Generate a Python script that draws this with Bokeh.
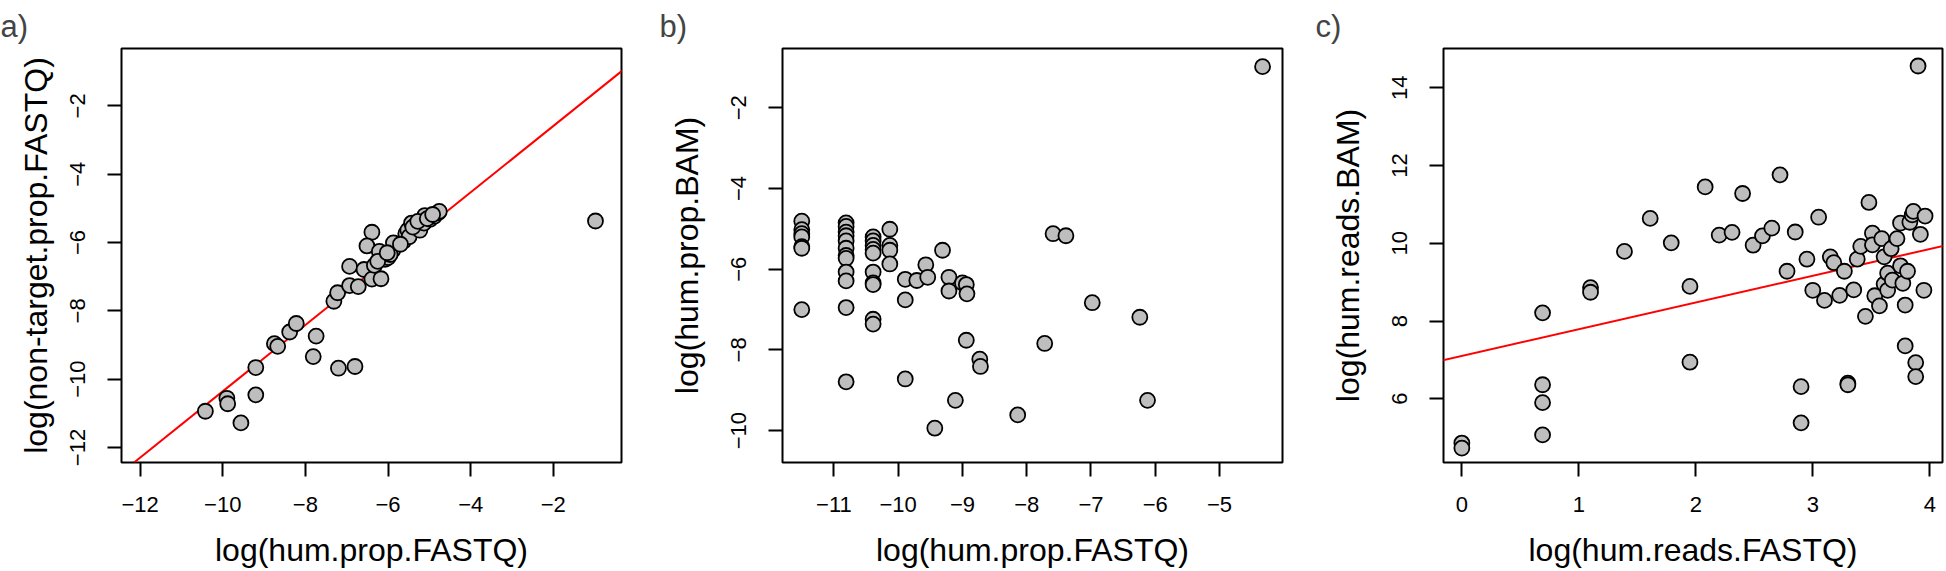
from bokeh.plotting import figure
from bokeh.layouts import row
from bokeh.models import Range1d, FixedTicker, Slope
from bokeh.embed import file_html
from bokeh.resources import INLINE

# ---------------- data ----------------
# panel a: log(hum.prop.FASTQ) vs log(non-target.prop.FASTQ)
a_x = [-0.98, -10.42, -9.90, -9.88, -9.56, -9.20, -9.20, -8.75, -8.67, -8.38,
       -8.22, -7.74, -7.81, -7.20, -6.80, -7.31, -7.22, -6.93, -6.93, -6.72,
       -6.58, -6.39, -6.51, -6.39, -6.33, -6.17, -6.21, -6.07, -6.00, -5.89,
       -5.87, -5.62, -5.57, -5.52, -5.49, -5.43, -5.33, -5.23, -5.13, -5.11,
       -4.98, -4.88, -4.79, -4.76, -6.25, -5.95, -5.70, -5.40, -5.28, -5.05,
       -4.92, -6.02]
a_y = [-5.37, -10.94, -10.56, -10.72, -11.28, -9.66, -10.46, -8.96, -9.04, -8.62,
       -8.37, -8.74, -9.34, -9.68, -9.63, -7.72, -7.47, -6.70, -7.26, -7.29,
       -6.79, -5.70, -6.10, -7.07, -6.67, -7.06, -6.26, -6.49, -6.44, -6.23,
       -6.01, -5.96, -5.74, -5.64, -5.83, -5.43, -5.48, -5.64, -5.43, -5.21,
       -5.32, -5.23, -5.13, -5.09, -6.55, -6.35, -6.05, -5.55, -5.38, -5.30,
       -5.18, -6.30]
a_fit_slope = 0.971
a_fit_intercept = -0.646

# panel b: log(hum.prop.FASTQ) vs log(hum.prop.BAM)
b_x = [-4.33,
       -11.50, -11.50, -11.50, -11.50, -11.50, -11.50, -11.50,
       -10.81, -10.81, -10.81, -10.81, -10.81, -10.81, -10.81, -10.81, -10.81,
       -10.81, -10.81, -10.81,
       -10.39, -10.39, -10.39, -10.39, -10.39, -10.39, -10.39, -10.39, -10.39, -10.39,
       -10.13, -10.13, -10.13, -10.13,
       -9.89, -9.89, -9.89, -9.71, -9.57, -9.54, -9.31, -9.21, -9.21, -9.00,
       -8.94, -8.93, -8.94, -8.73, -8.72, -9.43, -9.11, -8.14, -7.72, -7.59,
       -7.39, -6.98, -6.24, -6.12]
b_y = [-0.98,
       -4.81, -5.02, -5.12, -5.20, -5.44, -5.48, -7.00,
       -4.85, -4.94, -5.08, -5.17, -5.30, -5.48, -5.66, -5.73, -6.07,
       -6.29, -6.95, -8.79,
       -5.20, -5.30, -5.41, -5.51, -5.60, -6.07, -6.34, -6.38, -7.24, -7.36,
       -5.01, -5.41, -5.53, -5.87,
       -6.25, -6.76, -8.72, -6.28, -5.89, -6.20, -5.53, -6.20, -6.54, -6.34,
       -6.38, -6.61, -7.76, -8.23, -8.41, -9.94, -9.25, -9.61, -7.84, -5.12,
       -5.17, -6.83, -7.19, -9.25]

# panel c: log(hum.reads.FASTQ) vs log(hum.reads.BAM)
c_x = [3.90, 0.00, 0.00, 0.69, 0.69, 0.69, 0.69, 1.10, 1.10, 1.39,
       1.61, 1.79, 1.95, 1.95, 2.08, 2.20, 2.31, 2.40, 2.49, 2.57,
       2.65, 2.72, 2.78, 2.85, 2.90, 2.90, 2.95, 3.00, 3.05, 3.10,
       3.15, 3.18, 3.23, 3.27, 3.30, 3.30, 3.35, 3.38, 3.41, 3.45,
       3.48, 3.51, 3.51, 3.53, 3.57, 3.59, 3.61, 3.61, 3.64, 3.64,
       3.67, 3.68, 3.72, 3.75, 3.75, 3.77, 3.79, 3.79, 3.81, 3.83,
       3.85, 3.86, 3.88, 3.88, 3.92, 3.95, 3.96]
c_y = [14.56, 4.86, 4.73, 8.21, 6.36, 5.90, 5.07, 8.86, 8.74, 9.79,
       10.64, 10.01, 8.89, 6.94, 11.45, 10.21, 10.28, 11.28, 9.95, 10.19,
       10.39, 11.76, 9.28, 10.29, 6.31, 5.38, 9.59, 8.79, 10.67, 8.53,
       9.65, 9.50, 8.66, 9.28, 6.40, 6.36, 8.80, 9.59, 9.92, 8.12,
       11.05, 10.26, 9.96, 8.65, 8.39, 10.12, 9.65, 8.95, 9.23, 8.79,
       9.86, 9.05, 10.12, 9.42, 10.52, 8.97, 8.41, 7.36, 9.28, 10.54,
       10.73, 10.82, 6.93, 6.57, 10.23, 8.79, 10.70]
c_fit_slope = 0.688
c_fit_intercept = 7.10

# tick values
a_ticks = [-12, -10, -8, -6, -4, -2]
b_xticks = [-11, -10, -9, -8, -7, -6, -5]
b_yticks = [-10, -8, -6, -4, -2]
c_xticks = [0, 1, 2, 3, 4]
c_yticks = [6, 8, 10, 12, 14]

FONT = "Liberation Sans"


def minus(v):
    return str(v).replace("-", "\u2212")


def make_panel(tag, xlab, ylab, xr, yr, xticks, yticks, xs, ys,
               frame_w, bl, br, title_off, ylab_standoff, slope=None):
    p = figure(frame_width=frame_w, frame_height=414,
               min_border_left=bl, min_border_right=br,
               min_border_top=48, min_border_bottom=108,
               x_range=Range1d(*xr), y_range=Range1d(*yr),
               output_backend="svg", toolbar_location=None,
               background_fill_color="white", border_fill_color="white")
    p.grid.visible = False
    p.outline_line_color = "black"
    p.outline_line_width = 2
    p.outline_line_alpha = 1

    p.title.text = tag
    p.title.text_font = FONT
    p.title.text_font_size = "31px"
    p.title.text_font_style = "normal"
    p.title.align = "left"
    p.title.offset = title_off
    p.title.standoff = 9

    for ax, ticks in ((p.xaxis[0], xticks), (p.yaxis[0], yticks)):
        ax.ticker = FixedTicker(ticks=ticks)
        ax.major_label_overrides = {t: minus(t) for t in ticks}
        ax.minor_tick_line_color = None
        ax.axis_line_color = None
        ax.major_tick_in = 0
        ax.major_tick_out = 14
        ax.major_tick_line_width = 2
        ax.major_tick_line_color = "black"
        ax.major_label_text_font = FONT
        ax.major_label_text_font_size = "22px"
        ax.major_label_text_color = "black"
        ax.axis_label_text_font = FONT
        ax.axis_label_text_font_size = "32px"
        ax.axis_label_text_font_style = "normal"
        ax.axis_label_text_color = "black"
    p.xaxis.axis_label = xlab
    p.yaxis.axis_label = ylab
    p.xaxis.major_label_standoff = 20
    p.xaxis.axis_label_standoff = 17
    p.yaxis.major_label_standoff = 22
    p.yaxis.axis_label_standoff = ylab_standoff
    p.yaxis.major_label_orientation = "vertical"

    if slope is not None:
        s = Slope(gradient=slope[0], y_intercept=slope[1],
                  line_color="red", line_width=2, level="underlay")
        p.add_layout(s)

    p.scatter(xs, ys, marker="circle", size=15, fill_color="#BEBEBE",
              line_color="black", line_width=1.8)
    return p


pa = make_panel("a)", "log(hum.prop.FASTQ)", "log(non-target.prop.FASTQ)",
                (-12.45, -0.35), (-12.44, -0.32), a_ticks, a_ticks, a_x, a_y,
                500, 121, 18, -121, 14, (a_fit_slope, a_fit_intercept))
pb = make_panel("b)", "log(hum.prop.FASTQ)", "log(hum.prop.BAM)",
                (-11.80, -4.02), (-10.79, -0.53), b_xticks, b_yticks, b_x, b_y,
                500, 143, 10, -123, 24)
pc = make_panel("c)", "log(hum.reads.FASTQ)", "log(hum.reads.BAM)",
                (-0.157, 4.109), (4.36, 15.01), c_xticks, c_yticks, c_x, c_y,
                499, 151, 3, -128, 24, (c_fit_slope, c_fit_intercept))

layout = row(pa, pb, pc, spacing=0)
open("out.html", "w").write(file_html(layout, INLINE))
